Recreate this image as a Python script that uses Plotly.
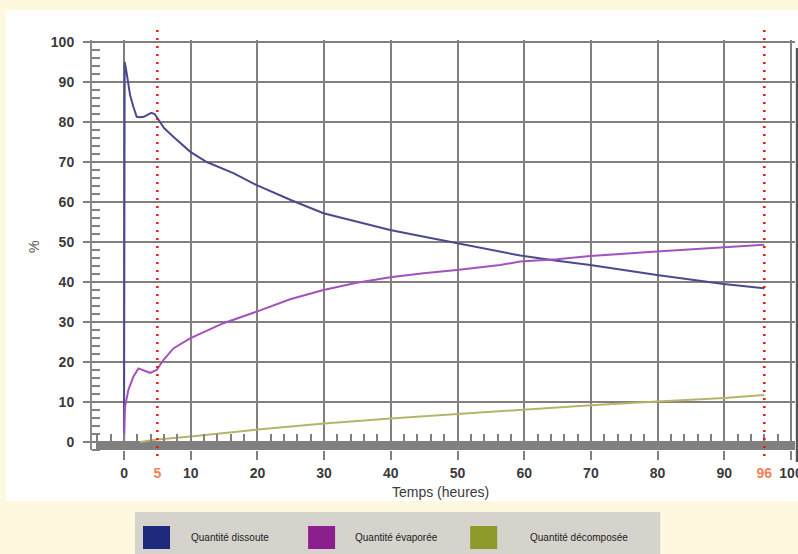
import plotly.graph_objects as go

# ---------------- data ----------------
t_dissoute = [0, 0.1, 0.4, 0.9, 1.4, 1.9, 2.5, 3.0, 3.5, 4.1, 4.6, 5.1, 6.0, 7.4, 9.9, 12.4,
              16.4, 19.9, 25.0, 29.9, 35.0, 39.9, 45.0, 49.9, 56.4, 59.4, 64.9, 69.9, 79.9, 89.9, 96.0]
q_dissoute = [0, 95, 92.2, 86.8, 83.8, 81.3, 81.2, 81.3, 81.8, 82.3, 82.0, 80.7, 78.5, 76.3, 72.6, 70.0,
              67.2, 64.2, 60.5, 57.2, 55.0, 53.0, 51.3, 49.7, 47.6, 46.6, 45.3, 44.25, 41.75, 39.5, 38.4]

t_evaporee = [0, 0.15, 0.65, 1.4, 2.15, 2.9, 3.9, 4.9, 5.9, 7.4, 9.9, 14.9, 19.9, 24.9, 29.9,
              34.9, 39.9, 44.9, 49.9, 56.4, 59.4, 64.9, 69.9, 79.9, 89.9, 96.0]
q_evaporee = [0, 8.8, 13.0, 16.3, 18.4, 18.0, 17.3, 18.0, 20.5, 23.4, 25.9, 29.7, 32.6, 35.7, 38.0,
              39.8, 41.2, 42.2, 43.0, 44.25, 45.1, 45.7, 46.5, 47.6, 48.7, 49.3]

t_decomposee = [2.4, 5, 10, 20, 30, 40, 50, 60, 70, 80, 90, 96]
q_decomposee = [0, 0.6, 1.4, 3.1, 4.6, 5.9, 7.0, 8.1, 9.2, 10.1, 11.0, 11.75]

x_tick_vals = [0, 5, 10, 20, 30, 40, 50, 60, 70, 80, 90, 96, 100]
highlight_hours = [5, 96]
legend_names = ["Quantité dissoute", "Quantité évaporée", "Quantité décomposée"]
legend_colors = ["#1e2a7c", "#8c1f8e", "#8d9a2a"]

# ---------------- layout helpers ----------------
W, H = 798, 554
PL, PR, PT, PB = 92, 794.7, 40, 450  # plot area in px


def px(xp):
    return (xp - PL) / (PR - PL)


def py(yp):
    return (PB - yp) / (PB - PT)


X_RANGE = [-4.8, 100.6]
Y_RANGE = [-2, 100.5]
GRID = "#857e7e"

fig = go.Figure()

fig.add_trace(go.Scatter(x=t_dissoute, y=q_dissoute, mode="lines", name=legend_names[0],
                         line=dict(color="#4b4a8e", width=2), showlegend=False))
fig.add_trace(go.Scatter(x=t_evaporee, y=q_evaporee, mode="lines", name=legend_names[1],
                         line=dict(color="#a352bb", width=2), showlegend=False))
fig.add_trace(go.Scatter(x=t_decomposee, y=q_decomposee, mode="lines", name=legend_names[2],
                         line=dict(color="#b5b46c", width=2), showlegend=False))
# invisible trace on the label axis
fig.add_trace(go.Scatter(x=[None], y=[None], xaxis="x2", yaxis="y", showlegend=False))

shapes = []
# white panel
shapes.append(dict(type="rect", xref="paper", yref="paper", x0=px(6), x1=px(798), y0=py(501), y1=py(10),
                   fillcolor="white", line=dict(width=0), layer="below"))
# gray base bar
shapes.append(dict(type="rect", xref="x", yref="y", x0=-3.9, x1=X_RANGE[1], y0=-2, y1=0,
                   fillcolor="#808080", line=dict(width=0), layer="below"))
# right border
shapes.append(dict(type="line", xref="paper", yref="paper", x0=px(797), x1=px(797), y0=py(462), y1=py(48),
                   line=dict(color="#555555", width=3)))
# red dotted markers
for h in highlight_hours:
    shapes.append(dict(type="line", xref="x", yref="paper", x0=h, x1=h, y0=py(456), y1=py(28),
                       line=dict(color="#e01a0a", width=2.5, dash="2px,6px"), layer="above"))

# legend box
shapes.append(dict(type="rect", xref="paper", yref="paper", x0=px(135), x1=px(660), y0=py(560), y1=py(512),
                   fillcolor="#d6d3cd", line=dict(width=0)))
legend_sq_x = [143, 308, 470]
legend_txt_x = [189, 353, 528]
annotations = []
for i in range(3):
    shapes.append(dict(type="rect", xref="paper", yref="paper", x0=px(legend_sq_x[i]), x1=px(legend_sq_x[i] + 27),
                       y0=py(549), y1=py(526), fillcolor=legend_colors[i], line=dict(width=0)))
    annotations.append(dict(xref="paper", yref="paper", x=px(legend_txt_x[i]), y=py(537.5), text=legend_names[i],
                            showarrow=False, xanchor="left", yanchor="middle",
                            font=dict(family="Liberation Sans", size=10, color="#222222")))

annotations.append(dict(xref="paper", yref="paper", x=px(440), y=py(492), text="Temps (heures)", showarrow=False,
                        xanchor="center", yanchor="middle",
                        font=dict(family="Liberation Sans", size=14, color="#3a3a3a")))
annotations.append(dict(xref="paper", yref="paper", x=px(34), y=py(247), text="%", showarrow=False, textangle=-90,
                        xanchor="center", yanchor="middle",
                        font=dict(family="Liberation Sans", size=14, color="#555555")))

tick_text = []
for v in x_tick_vals:
    if v in highlight_hours:
        tick_text.append(f'<span style="color:#f0805a">{v}</span>')
    else:
        tick_text.append(str(v))

fig.update_layout(
    width=W, height=H,
    margin=dict(l=PL, r=W - PR, t=PT, b=H - PB, autoexpand=False),
    paper_bgcolor="#fdf8de",
    plot_bgcolor="rgba(0,0,0,0)",
    shapes=shapes,
    annotations=annotations,
    xaxis=dict(range=X_RANGE, tick0=0, dtick=10, showgrid=True, gridcolor=GRID, gridwidth=2,
               ticks="outside", ticklen=9, tickwidth=2, tickcolor=GRID, showticklabels=False,
               zeroline=False, showline=False, automargin=False,
               minor=dict(dtick=2, tick0=0, ticks="inside", ticklen=16, tickwidth=1.5,
                          tickcolor="#808080", showgrid=False)),
    xaxis2=dict(range=X_RANGE, overlaying="x", anchor="y", side="bottom", tickmode="array",
                tickvals=x_tick_vals, ticktext=tick_text, showgrid=False, zeroline=False,
                ticks="outside", ticklen=8, tickcolor="rgba(0,0,0,0)", ticklabelstandoff=2,
                automargin=False, ticklabeloverflow="allow",
                tickfont=dict(family="Liberation Sans", size=14, color="#3a3a3a", weight="bold")),
    yaxis=dict(range=Y_RANGE, tick0=0, dtick=10, showgrid=True, gridcolor=GRID, gridwidth=2,
               ticks="outside", ticklen=7, tickwidth=2, tickcolor=GRID, zeroline=False,
               showline=True, linecolor="#8a8a8a", linewidth=2, ticklabelstandoff=6,
               automargin=False,
               tickfont=dict(family="Liberation Sans", size=14, color="#3a3a3a", weight="bold"),
               minor=dict(dtick=2, tick0=0, ticks="inside", ticklen=8, tickwidth=1.5,
                          tickcolor="#808080", showgrid=False)),
    showlegend=False,
)

fig.write_html("out.html", config={"displayModeBar": False},
               post_script="document.body.style.margin='0';document.body.style.overflow='hidden';"
                           "document.body.style.background='#fdf8de';")
